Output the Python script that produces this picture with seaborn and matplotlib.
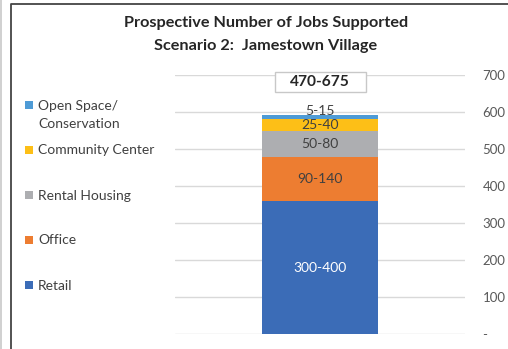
import matplotlib
matplotlib.use("Agg")
import matplotlib.pyplot as plt
import seaborn as sns
import numpy as np
import pandas as pd
from matplotlib.lines import Line2D
from matplotlib.patches import Rectangle

# ---- data ----
title_lines = ["Prospective Number of Jobs Supported", "Scenario 2:  Jamestown Village"]
scenario = ["Scenario 2"]
categories = ["Retail", "Office", "Rental Housing", "Community Center", "Open Space/\nConservation"]
values = [360, 118, 72, 31, 10]
range_labels = ["300-400", "90-140", "50-80", "25-40", "5-15"]
total_label = "470-675"
total_label_y = 682
colors = ["#3B6CB7", "#ED7D31", "#ADAEB1", "#FDBF17", "#4E9BD6"]
yticks = [0, 100, 200, 300, 400, 500, 600, 700]
ytick_labels = ["-", "100", "200", "300", "400", "500", "600", "700"]

W, H = 508, 349
sns.set_theme(style="white")
plt.rcParams["font.family"] = ["Lato", "DejaVu Sans"]

fig = plt.figure(figsize=(W / 100, H / 100), dpi=100)
ax = fig.add_axes([175 / W, 1 - 334.3 / H, (465 - 175) / W, (334.3 - 75) / H])

cum = np.cumsum(values)
for i in reversed(range(len(values))):
    df = pd.DataFrame({"scenario": scenario, "jobs": [cum[i]]})
    sns.barplot(data=df, x="scenario", y="jobs", color=colors[i], width=0.4,
                saturation=1, linewidth=0, ax=ax)

ax.set_ylim(0, 700)
ax.set_xlim(-0.5, 0.5)
ax.set_yticks(yticks)
ax.set_yticklabels(ytick_labels)
ax.yaxis.tick_right()
ax.tick_params(axis="y", length=0, pad=12.5, labelcolor="#595959", labelsize=9.5)
ax.set_xticks([])
ax.set_xlabel("")
ax.set_ylabel("")
ax.yaxis.grid(True, color="#D9D9D9", lw=1)
ax.set_axisbelow(True)
for s in ax.spines.values():
    s.set_visible(False)

# segment labels
for i in range(len(values)):
    center = cum[i] - values[i] / 2
    col = "white" if i == 0 else "#404040"
    dy = 6 if i == len(values) - 1 else 0
    ax.annotate(range_labels[i], (0, center), xytext=(0, dy), textcoords="offset pixels",
                ha="center", va="center", color=col, fontsize=10)

# total label box
bw, bh = 91 / 290, 20 / 0.3704
ax.add_patch(Rectangle((-bw / 2, total_label_y - bh / 2), bw, bh, fc="white",
                       ec="#C8C8C8", lw=1, clip_on=False, zorder=3))
ax.text(0, total_label_y, total_label, ha="center", va="center", fontsize=11.2,
        fontweight="bold", color="#262626", clip_on=False, zorder=4)

# title
fig.text(266 / W, 1 - 23 / H, title_lines[0], ha="center", va="center",
         fontsize=11.7, fontweight="bold", color="#262626")
fig.text(266 / W, 1 - 46 / H, title_lines[1], ha="center", va="center",
         fontsize=11.7, fontweight="bold", color="#262626")

# legend (top to bottom)
leg_y = [105, 150, 195, 240, 285]
for k, i in enumerate(reversed(range(len(categories)))):
    y = leg_y[k]
    fig.add_artist(Rectangle((25 / W, 1 - (y + 4) / H), 8 / W, 8 / H,
                             transform=fig.transFigure, fc=colors[i], ec="none"))
    fig.text(38 / W, 1 - (y - 5.5) / H, categories[i], ha="left", va="top",
             fontsize=10, color="#404040", linespacing=1.7)

# frame
fig.add_artist(Line2D([0.8 / W, 0.8 / W], [0, 1], transform=fig.transFigure,
                      color="#C8C8C8", lw=1.2))
fig.add_artist(Line2D([10.8 / W, 10.8 / W, 1], [0, 1 - 3.8 / H, 1 - 3.8 / H],
                      transform=fig.transFigure, color="#444444", lw=1.3))

fig.savefig("out.png", dpi=100)
